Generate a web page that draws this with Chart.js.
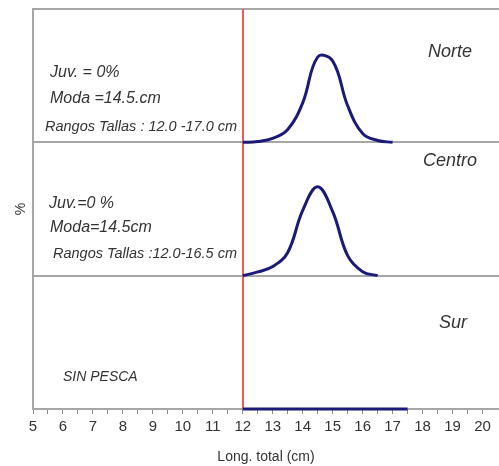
<!DOCTYPE html>
<html>
<head>
<meta charset="utf-8">
<script src="https://cdn.jsdelivr.net/npm/chart.js@4.4.0/dist/chart.umd.min.js"></script>
<style>
  html, body { margin: 0; padding: 0; background: #fff; }
  #wrap { width: 499px; height: 466px; overflow: hidden; }
</style>
</head>
<body>
<div id="wrap"><canvas id="chart" width="499" height="466"></canvas></div>
<script>
// Frecuencia de tallas (%) por zona
const tallasNorte = [12, 12.5, 13, 13.5, 14, 14.5, 15, 15.5, 16, 16.5, 17];
const pctNorte = [0, 0.3, 1.5, 4.8, 14.8, 32, 30.5, 13.7, 3.3, 0.7, 0];

const tallasCentro = [12, 12.5, 13, 13.5, 14, 14.5, 15, 15.5, 16, 16.5];
const pctCentro = [0, 1.4, 3.4, 8.7, 24.5, 33.3, 24, 7.5, 1.5, 0];

const tallasSur = [12, 12.5, 13, 13.5, 14, 14.5, 15, 15.5, 16, 16.5, 17, 17.5];
const pctSur = [0, 0, 0, 0, 0, 0, 0, 0, 0, 0, 0, 0];

const tallaMinima = 12; // linea roja
const xMin = 5;
const xMax = 20.55; // el grafico original sigue un poco despues de 20.5
const yMax = 50;

const zonas = ['Norte', 'Centro', 'Sur'];
const notasNorte = ['Juv. = 0%', 'Moda =14.5.cm', 'Rangos Tallas : 12.0 -17.0 cm'];
const notasCentro = ['Juv.=0 %', 'Moda=14.5cm', 'Rangos Tallas :12.0-16.5 cm'];
const notasSur = ['SIN PESCA'];

const azul = '#1a1a78';
const gris = '#a6a6a6';
const rojo = '#f05a5a';
const textoColor = '#333';
const fuente = "'Liberation Sans', Arial, sans-serif";

function puntos(xs, ys) {
    return xs.map((x, i) => ({ x: x, y: ys[i] }));
}

function serie(label, xs, ys, axis) {
    return {
        label: label,
        data: puntos(xs, ys),
        yAxisID: axis,
        borderColor: azul,
        borderWidth: 3,
        pointRadius: 0,
        tension: 0.4,
        fill: false,
        clip: false
    };
}

function panelAxis(extra) {
    return Object.assign({
        type: 'linear',
        position: 'left',
        stack: 'zonas',
        min: 0,
        max: yMax,
        ticks: { display: false, stepSize: yMax },
        grid: {
            color: ctx => ctx.tick && ctx.tick.value === yMax ? gris : 'rgba(0,0,0,0)',
            lineWidth: 2,
            drawTicks: false
        },
        border: { display: true, color: gris, width: 2 },
        afterFit: s => { s.width = 33; }
    }, extra);
}

// posiciones de los textos (px) relativas al borde superior de cada panel
const estiloNotas = {
    yN: { zona: zonas[0], pos: [450, 43], notas: notasNorte, lineas: [[50, 64], [50, 90], [45, 118]], sizes: [16, 16, 14.5] },
    yC: { zona: zonas[1], pos: [450, 19], notas: notasCentro, lineas: [[49, 61], [50, 85], [53, 112]], sizes: [16, 16, 14.5] },
    yS: { zona: zonas[2], pos: [453, 47], notas: notasSur, lineas: [[63, 101]], sizes: [14] }
};

const notasPlugin = {
    id: 'notas',
    afterDatasetsDraw(chart) {
        const ctx = chart.ctx;
        ctx.save();
        ctx.fillStyle = textoColor;
        ctx.textBaseline = 'middle';
        Object.keys(estiloNotas).forEach(id => {
            const cfg = estiloNotas[id];
            const top = chart.scales[id].top;
            ctx.font = 'italic 18px ' + fuente;
            ctx.textAlign = 'center';
            ctx.fillText(cfg.zona, cfg.pos[0], top + cfg.pos[1]);
            ctx.textAlign = 'left';
            cfg.notas.forEach((t, i) => {
                ctx.font = 'italic ' + cfg.sizes[i] + 'px ' + fuente;
                ctx.fillText(t, cfg.lineas[i][0], top + cfg.lineas[i][1]);
            });
        });
        ctx.restore();
    }
};

// linea vertical de talla minima a traves de los tres paneles
const lineaRoja = {
    id: 'lineaRoja',
    beforeDatasetsDraw(chart) {
        const ctx = chart.ctx;
        const x = Math.round(chart.scales.x.getPixelForValue(tallaMinima));
        ctx.save();
        ctx.strokeStyle = rojo;
        ctx.lineWidth = 2;
        ctx.beginPath();
        ctx.moveTo(x, chart.chartArea.top);
        ctx.lineTo(x, chart.chartArea.bottom);
        ctx.stroke();
        ctx.restore();
    }
};

new Chart(document.getElementById('chart'), {
    type: 'line',
    data: {
        datasets: [
            serie('Norte', tallasNorte, pctNorte, 'yN'),
            serie('Centro', tallasCentro, pctCentro, 'yC'),
            serie('Sur', tallasSur, pctSur, 'yS')
        ]
    },
    options: {
        responsive: false,
        animation: false,
        layout: { padding: { left: 0, top: 9, right: 0, bottom: 0 } },
        plugins: {
            legend: { display: false },
            tooltip: { enabled: false }
        },
        scales: {
            x: {
                type: 'linear',
                position: 'bottom',
                min: xMin,
                max: xMax,
                afterBuildTicks: s => {
                    s.ticks = s.ticks.filter(t => Number.isInteger(t.value * 2));
                },
                ticks: {
                    stepSize: 0.5,
                    autoSkip: false,
                    maxRotation: 0,
                    padding: 4,
                    color: textoColor,
                    font: { family: fuente, size: 15 },
                    callback: v => Number.isInteger(v) ? String(v) : ''
                },
                grid: {
                    drawOnChartArea: false,
                    color: '#8a8a8a',
                    tickColor: '#8a8a8a',
                    tickLength: 5,
                    tickWidth: 1
                },
                border: { display: true, color: gris, width: 2 },
                title: {
                    display: true,
                    text: 'Long. total (cm)',
                    color: textoColor,
                    font: { family: fuente, size: 14 },
                    padding: { top: 0, bottom: 0 }
                },
                afterFit: s => { s.height = 57; }
            },
            yS: panelAxis({}),
            yC: panelAxis({
                title: {
                    display: true,
                    text: '%',
                    color: textoColor,
                    font: { family: fuente, size: 14 },
                    padding: { top: 13, bottom: 0 }
                }
            }),
            yN: panelAxis({})
        }
    },
    plugins: [lineaRoja, notasPlugin]
});
</script>
</body>
</html>
